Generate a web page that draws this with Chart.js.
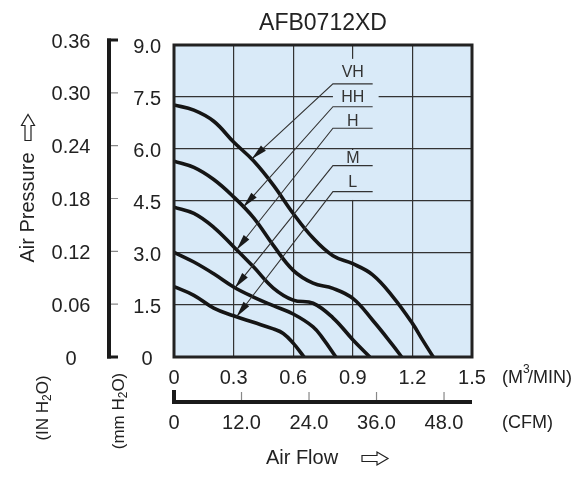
<!DOCTYPE html>
<html>
<head>
<meta charset="utf-8">
<script src="https://cdn.jsdelivr.net/npm/chart.js@4.4.1/dist/chart.umd.min.js"></script>
<style>
  html, body { margin: 0; padding: 0; background: #fff; }
</style>
</head>
<body>
<canvas id="pq" width="575" height="482"></canvas>
<script>
// axis ticks
const flowTicks = [0, 0.3, 0.6, 0.9, 1.2, 1.5];
const flowTickLabels = ['0', '0.3', '0.6', '0.9', '1.2', '1.5'];
const mmTicks = [0, 1.5, 3, 4.5, 6, 7.5, 9];
const mmTickLabels = ['0', '1.5', '3.0', '4.5', '6.0', '7.5', '9.0'];
const inTicks = [0, 0.06, 0.12, 0.18, 0.24, 0.30, 0.36];
const inTickLabels = ['0', '0.06', '0.12', '0.18', '0.24', '0.30', '0.36'];
const cfmTicks = [0, 12, 24, 36, 48];
const cfmTickLabels = ['0', '12.0', '24.0', '36.0', '48.0'];

// P-Q curves (M3/MIN, mm H2O)
const flowVH = [0, 0.1, 0.2, 0.3, 0.4, 0.5, 0.6, 0.7, 0.8, 0.9, 1.0, 1.1, 1.2, 1.25, 1.305];
const presVH = [7.27, 7.12, 6.8, 6.2, 5.66, 4.96, 4.14, 3.43, 2.92, 2.69, 2.37, 1.75, 0.97, 0.5, 0];
const flowHH = [0, 0.1, 0.2, 0.3, 0.4, 0.5, 0.6, 0.7, 0.8, 0.9, 1.0, 1.1, 1.146];
const presHH = [5.65, 5.47, 5.12, 4.62, 4.02, 3.22, 2.5, 2.13, 1.98, 1.69, 1.06, 0.35, 0];
const flowH = [0, 0.1, 0.2, 0.3, 0.4, 0.5, 0.6, 0.7, 0.8, 0.9, 0.986];
const presH = [4.32, 4.14, 3.74, 3.18, 2.6, 1.99, 1.64, 1.55, 1.13, 0.5, 0];
const flowM = [0, 0.1, 0.2, 0.3, 0.4, 0.5, 0.6, 0.7, 0.75, 0.815];
const presM = [3.02, 2.74, 2.4, 2.02, 1.73, 1.48, 1.24, 0.87, 0.53, 0];
const flowL = [0, 0.1, 0.2, 0.3, 0.4, 0.5, 0.55, 0.6, 0.655];
const presL = [2.03, 1.78, 1.41, 1.19, 1.0, 0.81, 0.68, 0.4, 0];

const seriesNames = ['VH', 'HH', 'H', 'M', 'L'];
const seriesFlow = [flowVH, flowHH, flowH, flowM, flowL];
const seriesPres = [presVH, presHH, presH, presM, presL];

// where each leader arrow touches its curve (M3/MIN)
const arrowFlow = [0.391, 0.349, 0.315, 0.307, 0.315];

const MM_PER_IN = 25.4;
const CFM_PER_M3MIN = 35.3147;
const FONT = '"Liberation Sans", Arial, sans-serif';
const INK = '#222';
const PLOT_BG = '#d9eaf8';

// label boxes for the curve names (mm H2O)
const notes = [
  { textY: 8.2, lineY: 7.88 },
  { textY: 7.48, lineY: 7.22 },
  { textY: 6.8, lineY: 6.6 },
  { textY: 5.73, lineY: 5.52 },
  { textY: 5.02, lineY: 4.77 }
];

function interp(xs, ys, v) {
  for (let i = 1; i < xs.length; i++) {
    if (v <= xs[i]) {
      const t = (v - xs[i - 1]) / (xs[i] - xs[i - 1]);
      return ys[i - 1] + t * (ys[i] - ys[i - 1]);
    }
  }
  return ys[ys.length - 1];
}

function rotatedSubText(ctx, cx, cy, pre, sub, post, size) {
  ctx.save();
  ctx.translate(cx, cy);
  ctx.rotate(-Math.PI / 2);
  ctx.textBaseline = 'middle';
  ctx.textAlign = 'left';
  const main = size + 'px ' + FONT;
  const small = Math.round(size * 0.7) + 'px ' + FONT;
  ctx.font = main;
  const w1 = ctx.measureText(pre).width;
  const w3 = ctx.measureText(post).width;
  ctx.font = small;
  const w2 = ctx.measureText(sub).width;
  let sx = -(w1 + w2 + w3) / 2;
  ctx.font = main;
  ctx.fillText(pre, sx, 0);
  sx += w1;
  ctx.font = small;
  ctx.fillText(sub, sx, size * 0.3);
  sx += w2;
  ctx.font = main;
  ctx.fillText(post, sx, 0);
  ctx.restore();
}

function hollowArrow(ctx, cx, cy, angle) {
  ctx.save();
  ctx.translate(cx, cy);
  ctx.rotate(angle);
  ctx.beginPath();
  ctx.moveTo(-13, -3);
  ctx.lineTo(2, -3);
  ctx.lineTo(2, -6.5);
  ctx.lineTo(13, 0);
  ctx.lineTo(2, 6.5);
  ctx.lineTo(2, 3);
  ctx.lineTo(-13, 3);
  ctx.closePath();
  ctx.fillStyle = '#fff';
  ctx.fill();
  ctx.lineWidth = 1.2;
  ctx.strokeStyle = INK;
  ctx.stroke();
  ctx.restore();
}

const pqDecor = {
  id: 'pqDecor',
  beforeDraw(chart) {
    const { ctx, chartArea: a } = chart;
    ctx.save();
    ctx.fillStyle = PLOT_BG;
    ctx.fillRect(a.left, a.top, a.width, a.height);
    ctx.restore();
  },
  beforeDatasetsDraw(chart) {
    // the grid is broken behind the curve names
    const { ctx } = chart;
    const x = chart.scales.x, y = chart.scales.y;
    ctx.save();
    ctx.fillStyle = PLOT_BG;
    const gx = x.getPixelForValue(0.9);
    const y6 = y.getPixelForValue(6.0);
    ctx.fillRect(gx - 2, y.getPixelForValue(8.6), 4, y6 - 1 - y.getPixelForValue(8.6));
    ctx.fillRect(gx - 2, y6 + 1, 4, y.getPixelForValue(4.53) - y6 - 1);
    const x0 = x.getPixelForValue(0.80), x1 = x.getPixelForValue(1.03);
    ctx.fillRect(x0, y.getPixelForValue(7.5) - 2, x1 - x0, 4);
    ctx.restore();
  },
  afterDatasetsDraw(chart) {
    const { ctx, chartArea: a } = chart;
    const x = chart.scales.x, y = chart.scales.y;
    ctx.save();
    notes.forEach((n, i) => {
      const x0 = x.getPixelForValue(0.80);
      const x1 = x.getPixelForValue(1.0);
      const yl = y.getPixelForValue(n.lineY);
      const tx = x.getPixelForValue(arrowFlow[i]);
      const ty = y.getPixelForValue(interp(seriesFlow[i], seriesPres[i], arrowFlow[i]));
      ctx.strokeStyle = '#333';
      ctx.lineWidth = 1.1;
      ctx.beginPath();
      ctx.moveTo(x1, yl);
      ctx.lineTo(x0, yl);
      ctx.lineTo(tx, ty);
      ctx.stroke();
      const ang = Math.atan2(ty - yl, tx - x0);
      const len = 16, hw = 3.6;
      const bx = tx - len * Math.cos(ang), by = ty - len * Math.sin(ang);
      ctx.fillStyle = '#1a1a1a';
      ctx.beginPath();
      ctx.moveTo(tx, ty);
      ctx.lineTo(bx + hw * Math.sin(ang), by - hw * Math.cos(ang));
      ctx.lineTo(bx - hw * Math.sin(ang), by + hw * Math.cos(ang));
      ctx.closePath();
      ctx.fill();
      ctx.fillStyle = '#333';
      ctx.font = '16px ' + FONT;
      ctx.textAlign = 'center';
      ctx.textBaseline = 'middle';
      ctx.fillText(seriesNames[i], x.getPixelForValue(0.9), y.getPixelForValue(n.textY));
    });
    ctx.strokeStyle = INK;
    ctx.lineWidth = 3;
    ctx.strokeRect(a.left, a.top, a.width, a.height);
    ctx.restore();
  },
  afterDraw(chart) {
    const { ctx } = chart;
    const x = chart.scales.x, y = chart.scales.y;
    ctx.save();

    // IN H2O axis
    const inPx = v => y.getPixelForValue(v * MM_PER_IN);
    const bx = 109;
    const top = inPx(inTicks[inTicks.length - 1]), bot = inPx(0);
    ctx.strokeStyle = '#1a1a1a';
    ctx.lineWidth = 4;
    ctx.beginPath();
    ctx.moveTo(bx, top - 1.5);
    ctx.lineTo(bx, bot + 1.5);
    ctx.stroke();
    ctx.lineWidth = 3;
    ctx.beginPath();
    ctx.moveTo(bx - 2, top); ctx.lineTo(bx + 9, top);
    ctx.moveTo(bx - 2, bot); ctx.lineTo(bx + 9, bot);
    ctx.stroke();
    ctx.strokeStyle = '#888';
    ctx.lineWidth = 1.2;
    ctx.beginPath();
    inTicks.slice(1, -1).forEach(v => {
      ctx.moveTo(bx + 2, inPx(v));
      ctx.lineTo(bx + 9, inPx(v));
    });
    ctx.stroke();
    ctx.fillStyle = INK;
    ctx.font = '20px ' + FONT;
    ctx.textAlign = 'center';
    ctx.textBaseline = 'middle';
    inTicks.forEach((v, i) => ctx.fillText(inTickLabels[i], 71, inPx(v) + 2));

    // CFM axis
    const cfmPx = v => x.getPixelForValue(v / CFM_PER_M3MIN);
    const ay = 402;
    ctx.strokeStyle = '#1a1a1a';
    ctx.lineWidth = 4;
    ctx.beginPath();
    ctx.moveTo(cfmPx(0), 390);
    ctx.lineTo(cfmPx(0), ay);
    ctx.lineTo(x.right, ay);
    ctx.stroke();
    ctx.strokeStyle = '#888';
    ctx.lineWidth = 1.2;
    ctx.beginPath();
    cfmTicks.slice(1).forEach(v => {
      ctx.moveTo(cfmPx(v), 392);
      ctx.lineTo(cfmPx(v), ay - 2);
    });
    ctx.stroke();
    ctx.fillStyle = INK;
    cfmTicks.forEach((v, i) => ctx.fillText(cfmTickLabels[i], cfmPx(v), 423));

    // units
    ctx.textAlign = 'left';
    ctx.font = '18px ' + FONT;
    let ux = 502;
    ctx.fillText('(M', ux, 378);
    ux += ctx.measureText('(M').width;
    ctx.font = '12px ' + FONT;
    ctx.fillText('3', ux, 370);
    ux += ctx.measureText('3').width * 0.75;
    ctx.font = '18px ' + FONT;
    ctx.fillText('/MIN)', ux, 378);
    ctx.fillText('(CFM)', 502, 423);

    // axis titles
    ctx.font = '20px ' + FONT;
    ctx.textAlign = 'center';
    ctx.fillText('Air Flow', 302, 458);
    hollowArrow(ctx, 375, 458.5, 0);

    ctx.save();
    ctx.translate(28, 207.5);
    ctx.rotate(-Math.PI / 2);
    ctx.fillText('Air Pressure', 0, 0);
    ctx.restore();
    hollowArrow(ctx, 28, 127.5, -Math.PI / 2);

    rotatedSubText(ctx, 43, 408, '(IN H', '2', 'O)', 17);
    rotatedSubText(ctx, 119, 411, '(mm H', '2', 'O)', 17);

    ctx.restore();
  }
};

const datasets = seriesNames.map((name, i) => ({
  label: name,
  data: seriesFlow[i].map((f, j) => ({ x: f, y: seriesPres[i][j] })),
  borderColor: '#151515',
  borderWidth: 3.6,
  pointRadius: 0,
  fill: false,
  tension: 0.4
}));

new Chart(document.getElementById('pq').getContext('2d'), {
  type: 'line',
  data: { datasets: datasets },
  plugins: [pqDecor],
  options: {
    responsive: false,
    animation: false,
    events: [],
    layout: { padding: { left: 114, right: 103, top: 0, bottom: 85 } },
    plugins: {
      legend: { display: false },
      tooltip: { enabled: false },
      title: {
        display: true,
        fullSize: false,
        text: 'AFB0712XD',
        color: INK,
        font: { family: FONT, size: 23, weight: 'normal' },
        padding: { top: 10, bottom: 7.4 }
      }
    },
    scales: {
      x: {
        type: 'linear',
        min: 0,
        max: 1.5,
        afterBuildTicks: s => { s.ticks = flowTicks.map(v => ({ value: v })); },
        afterFit: s => { s.height = 40; s.paddingLeft = 0; s.paddingRight = 0; },
        ticks: {
          color: INK,
          font: { family: FONT, size: 20 },
          padding: 9,
          maxRotation: 0,
          callback: v => flowTickLabels[flowTicks.indexOf(v)]
        },
        grid: { color: '#333', lineWidth: 1.2, drawTicks: false },
        border: { display: false }
      },
      y: {
        type: 'linear',
        min: 0,
        max: 9,
        afterBuildTicks: s => { s.ticks = mmTicks.map(v => ({ value: v })); },
        afterFit: s => { s.width = 60; s.paddingTop = 0; s.paddingBottom = 0; },
        ticks: {
          color: INK,
          font: { family: FONT, size: 20 },
          padding: 13,
          crossAlign: 'center',
          labelOffset: 2,
          callback: v => mmTickLabels[mmTicks.indexOf(v)]
        },
        grid: { color: '#333', lineWidth: 1.2, drawTicks: false },
        border: { display: false }
      }
    }
  }
});
</script>
</body>
</html>
